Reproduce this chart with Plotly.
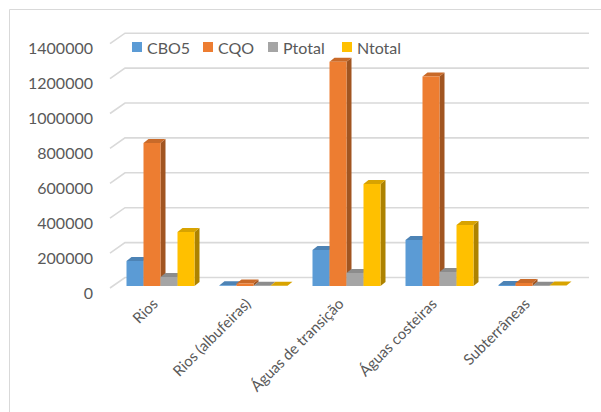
import plotly.graph_objects as go

# ---- data ----
categories = ["Rios", "Rios (albufeiras)", "Águas de transição", "Águas costeiras", "Subterrâneas"]
series_names = ["CBO5", "CQO", "Ptotal", "Ntotal"]
cbo5 = [143000, 5000, 206000, 264000, 6000]
cqo = [820000, 15000, 1285000, 1200000, 17000]
ptotal = [52000, 1000, 74000, 80000, 1000]
ntotal = [309000, 2000, 585000, 350000, 3000]
y_ticks = [0, 200000, 400000, 600000, 800000, 1000000, 1200000, 1400000]

series_values = [cbo5, cqo, ptotal, ntotal]
front_colors = ["#5B9BD5", "#ED7D31", "#A5A5A5", "#FFC000"]

# ---- geometry (pixels) ----
W, H = 601, 412
ML, MR, MT, MB = 100, 6, 20, 121
PX_PER_CAT = 93.0          # horizontal pixels per category
X0_PX = 156.5              # pixel of category 0 centre (front of floor)
Y0_PX = 288.0              # pixel of value 0 (front of floor)
UNITS_PER_PX = 200000 / 34.9

plot_w = W - ML - MR
plot_h = H - MT - MB
x_range = [(ML - X0_PX) / PX_PER_CAT, (W - MR - X0_PX) / PX_PER_CAT]
y_range = [(Y0_PX - (H - MB)) * UNITS_PER_PX, (Y0_PX - MT) * UNITS_PER_PX]


def dx(px):
    return px / PX_PER_CAT


def dy(px):
    return px * UNITS_PER_PX


def paper_x(px):
    return (px - ML) / plot_w


def paper_y(py):
    return (H - MB - py) / plot_h


def shade(hex_color, f):
    h = hex_color.lstrip("#")
    r, g, b = (int(h[i:i + 2], 16) for i in (0, 2, 4))
    return "#%02X%02X%02X" % (int(r * f), int(g * f), int(b * f))


# oblique depth of bars and of the floor/back wall
BAR_W = dx(17)
BAR_DX, BAR_DY = dx(5), dy(4)
FLOOR_DX, FLOOR_DY = dx(15), dy(10.5)
BAR_OFF_X, BAR_OFF_Y = dx(4), dy(2)

fig = go.Figure()

# gridlines: diagonal on the side wall + horizontal on the back wall
gx, gy = [], []
x_front = -0.5
x_back_end = len(categories) - 0.5 + FLOOR_DX - dx(1)
for v in y_ticks:
    gx += [x_front, x_front + FLOOR_DX, x_back_end, None]
    gy += [v, v + FLOOR_DY, v + FLOOR_DY, None]
fig.add_trace(go.Scatter(x=gx, y=gy, mode="lines", line=dict(color="#D9D9D9", width=1.6),
                         hoverinfo="skip", showlegend=False))

# build faces of each 3-D column
sides, tops, fronts = [], [], []
n = len(series_names)
for s, vals in enumerate(series_values):
    sx, sy, tx, ty, fx, fy = [], [], [], [], [], []
    for i, v in enumerate(vals):
        left = i - n * BAR_W / 2 + BAR_OFF_X + s * BAR_W
        right = left + BAR_W
        base = BAR_OFF_Y
        top = base + v
        fx += [left, right, right, left, left, None]
        fy += [base, base, top, top, base, None]
        tx += [left, right, right + BAR_DX, left + BAR_DX, left, None]
        ty += [top, top, top + BAR_DY, top + BAR_DY, top, None]
        sx += [right, right + BAR_DX, right + BAR_DX, right, right, None]
        sy += [base, base + BAR_DY, top + BAR_DY, top, base, None]
    sides.append((sx, sy, shade(front_colors[s], 0.68)))
    tops.append((tx, ty, shade(front_colors[s], 0.85)))
    fronts.append((fx, fy, front_colors[s]))

for group in (sides, tops, fronts):
    for xs, ys, col in group:
        fig.add_trace(go.Scatter(x=xs, y=ys, mode="lines", fill="toself", fillcolor=col,
                                 line=dict(width=0, color=col), hoverinfo="skip",
                                 showlegend=False))

# legend drawn as swatches + labels
legend_swatch_px = [132, 203, 268, 342]
shapes = []
annotations = []
for name, col, px in zip(series_names, front_colors, legend_swatch_px):
    shapes.append(dict(type="rect", xref="paper", yref="paper",
                       x0=paper_x(px), x1=paper_x(px + 10), y0=paper_y(52), y1=paper_y(42),
                       fillcolor=col, line=dict(width=0)))
    annotations.append(dict(text=name, xref="paper", yref="paper", x=paper_x(px + 13),
                            y=paper_y(47), xanchor="left", yanchor="middle", showarrow=False,
                            font=dict(family="Lato", size=16, color="#595959")))

# chart area border
shapes.append(dict(type="rect", xref="paper", yref="paper",
                   x0=paper_x(9.5), x1=paper_x(W + 20), y0=paper_y(H + 20), y1=paper_y(9.5),
                   line=dict(color="#D9D9D9", width=1), fillcolor="rgba(0,0,0,0)", layer="below"))

fig.update_layout(
    width=W, height=H,
    margin=dict(l=ML, r=MR, t=MT, b=MB),
    paper_bgcolor="white", plot_bgcolor="white",
    showlegend=False,
    shapes=shapes, annotations=annotations,
    xaxis=dict(range=x_range, showgrid=False, zeroline=False, showline=False,
               tickmode="array", tickvals=[i - dx(3) for i in range(len(categories))],
               ticktext=categories, tickangle=-45, ticks="",
               tickfont=dict(family="Lato", size=15, color="#595959")),
    yaxis=dict(range=y_range, showgrid=False, zeroline=False, showline=False,
               tickmode="array", tickvals=y_ticks, ticktext=[str(v) for v in y_ticks],
               ticks="", ticklabelstandoff=6, ticklabelshift=5,
               tickfont=dict(family="Lato", size=16, color="#595959")),
)

fig.write_html("out.html")
